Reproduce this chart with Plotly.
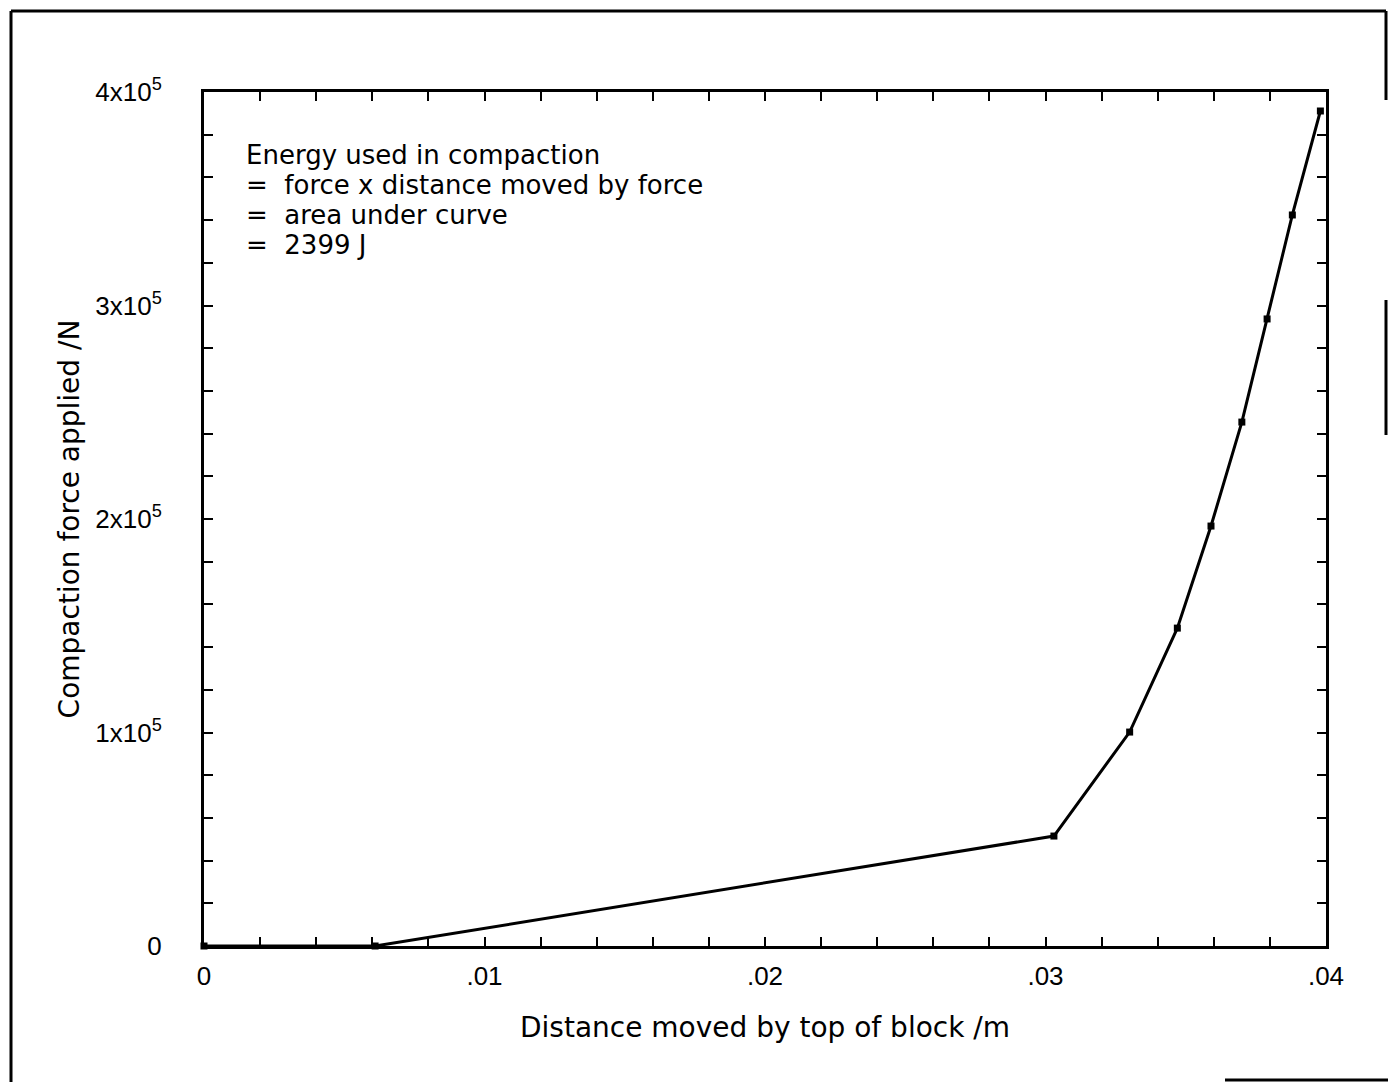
import plotly.graph_objects as go

# Data
distance_m = [0.0, 0.0061, 0.0303, 0.0330, 0.0347, 0.0359, 0.0370, 0.0379, 0.0388, 0.0398]
force_N = [0, 0, 51500, 100200, 148900, 196700, 245400, 293700, 342400, 391100]

x_tick_vals = [0, 0.01, 0.02, 0.03, 0.04]
x_tick_text = ["0", ".01", ".02", ".03", ".04"]
y_tick_vals = [0, 100000, 200000, 300000, 400000]
y_tick_text = ["0", "1x10<sup>5</sup>", "2x10<sup>5</sup>", "3x10<sup>5</sup>", "4x10<sup>5</sup>"]

note_lines = [
    "Energy used in compaction",
    "=\u00a0 force x distance moved by force",
    "=\u00a0 area under curve",
    "=\u00a0 2399 J",
]

W, H = 1388, 1082
L, R, T, B = 204, 1326, 92, 946  # plot area in page pixels


def px(xp):
    return (xp - L) / (R - L)


def py(yp):
    return (B - yp) / (B - T)


fig = go.Figure()
fig.add_trace(go.Scatter(
    x=distance_m, y=force_N, mode="lines+markers",
    line=dict(color="black", width=3),
    marker=dict(symbol="square", size=7, color="black"),
    showlegend=False, cliponaxis=False,
))

tick_font = dict(family="Liberation Sans, Arial, sans-serif", size=26, color="black")
title_font = dict(family="DejaVu Sans, sans-serif", size=28, color="black")
note_font = dict(family="DejaVu Sans, sans-serif", size=26, color="black")

fig.update_layout(
    width=W, height=H,
    margin=dict(l=L, r=W - R, t=T, b=H - B),
    paper_bgcolor="white", plot_bgcolor="white",
    xaxis=dict(
        range=[0, 0.04], tickvals=x_tick_vals, ticktext=x_tick_text,
        showgrid=False, zeroline=False,
        showline=True, linecolor="black", linewidth=3, mirror="ticks",
        ticks="inside", ticklen=9, tickwidth=2, tickcolor="black",
        minor=dict(dtick=0.002, ticks="inside", ticklen=9, tickwidth=2, tickcolor="black", showgrid=False),
        tickfont=tick_font, ticklabelstandoff=5,
        title=dict(text="Distance moved by top of block /m", font=title_font, standoff=28),
    ),
    yaxis=dict(
        range=[0, 400000], tickvals=y_tick_vals, ticktext=y_tick_text,
        showgrid=False, zeroline=False,
        showline=True, linecolor="black", linewidth=3, mirror="ticks",
        ticks="inside", ticklen=9, tickwidth=2, tickcolor="black",
        minor=dict(dtick=20000, ticks="inside", ticklen=9, tickwidth=2, tickcolor="black", showgrid=False),
        tickfont=tick_font, ticklabelstandoff=34,
        title=dict(text="Compaction force applied /N", font=title_font, standoff=8),
    ),
)

# Annotation text lines
line_y_px = [155, 185, 215, 245]
for txt, yp in zip(note_lines, line_y_px):
    fig.add_annotation(
        x=px(244), y=py(yp), xref="paper", yref="paper",
        text=txt, showarrow=False, xanchor="left", yanchor="middle",
        font=note_font, align="left",
    )

# Outer frame (scanned page border), page pixels
frame = [
    (11, 11, 11, 1082),
    (11, 11, 1386, 11),
    (1386, 11, 1386, 100),
    (1386, 300, 1386, 435),
    (1225, 1080, 1388, 1080),
]
for x0, y0, x1, y1 in frame:
    fig.add_shape(type="line", xref="paper", yref="paper",
                  x0=px(x0), y0=py(y0), x1=px(x1), y1=py(y1),
                  line=dict(color="black", width=3))

fig.write_html(
    "out.html",
    config={"displayModeBar": False},
    post_script="document.body.style.margin='0';document.body.style.overflow='hidden';",
)
